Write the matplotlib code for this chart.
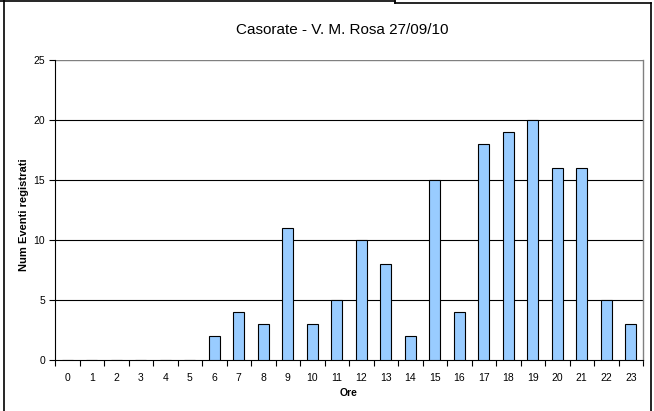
import matplotlib
matplotlib.use("Agg")
import matplotlib.pyplot as plt
from matplotlib.lines import Line2D

hours = list(range(24))
hour_labels = [str(h) for h in hours]
events = [0, 0, 0, 0, 0, 0, 2, 4, 3, 11, 3, 5, 10, 8, 2, 15, 4, 18, 19, 20, 16, 16, 5, 3]
y_ticks = [0, 5, 10, 15, 20, 25]

plt.rcParams['font.family'] = ['Liberation Sans', 'DejaVu Sans']

W, H = 654, 411
fig = plt.figure(figsize=(W / 100, H / 100), dpi=100)
ax = fig.add_axes([55 / W, (H - 360) / H, (643 - 55) / W, 300 / H])

ax.bar(hours, events, width=0.45, color='#99CCFF', edgecolor='#000000', linewidth=0.8, zorder=3)

ax.set_xlim(-0.5, 23.5)
ax.set_ylim(0, 25)
ax.set_yticks(y_ticks)
ax.set_yticklabels([str(v) for v in y_ticks], fontsize=7.5)
ax.set_xticks(hours)
ax.set_xticklabels(hour_labels, fontsize=7.5)
ax.set_xticks([h - 0.5 for h in hours] + [23.5], minor=True)
ax.tick_params(axis='x', which='major', length=0, pad=9)
ax.tick_params(axis='x', which='minor', length=4, width=0.8, direction='out')
ax.tick_params(axis='y', which='major', length=4, width=0.8, direction='out', pad=3)

for v in y_ticks[1:-1]:
    ax.axhline(v, color='#000000', linewidth=0.8, zorder=1)
ax.axhline(y_ticks[-1], color='#808080', linewidth=1.0, zorder=1)

ax.spines['left'].set_color('#000000')
ax.spines['bottom'].set_color('#000000')
ax.spines['left'].set_linewidth(0.8)
ax.spines['bottom'].set_linewidth(0.8)
ax.spines['right'].set_color('#808080')
ax.spines['right'].set_linewidth(1.0)
ax.spines['top'].set_visible(False)

ax.set_xlabel('Ore', fontsize=7.5, fontweight='bold', labelpad=4)
fig.text(24 / W, 1 - 215 / H, 'Num Eventi registrati', rotation=90, ha='center', va='center',
         fontsize=8, fontweight='bold')

fig.text(342 / W, 1 - 30 / H, 'Casorate - V. M. Rosa 27/09/10', ha='center', va='center', fontsize=11)

def fl(x0, y0, x1, y1, **kw):
    fig.add_artist(Line2D([x0 / W, x1 / W], [1 - y0 / H, 1 - y1 / H], color='#000000', linewidth=1.2, **kw))

fl(0, 1, 395, 1)
fl(395, 1, 395, 3)
fl(395, 3, 651, 3)
fl(4, 1, 4, 411)
fl(651, 3, 651, 411)

fig.savefig('out.png', dpi=100)
